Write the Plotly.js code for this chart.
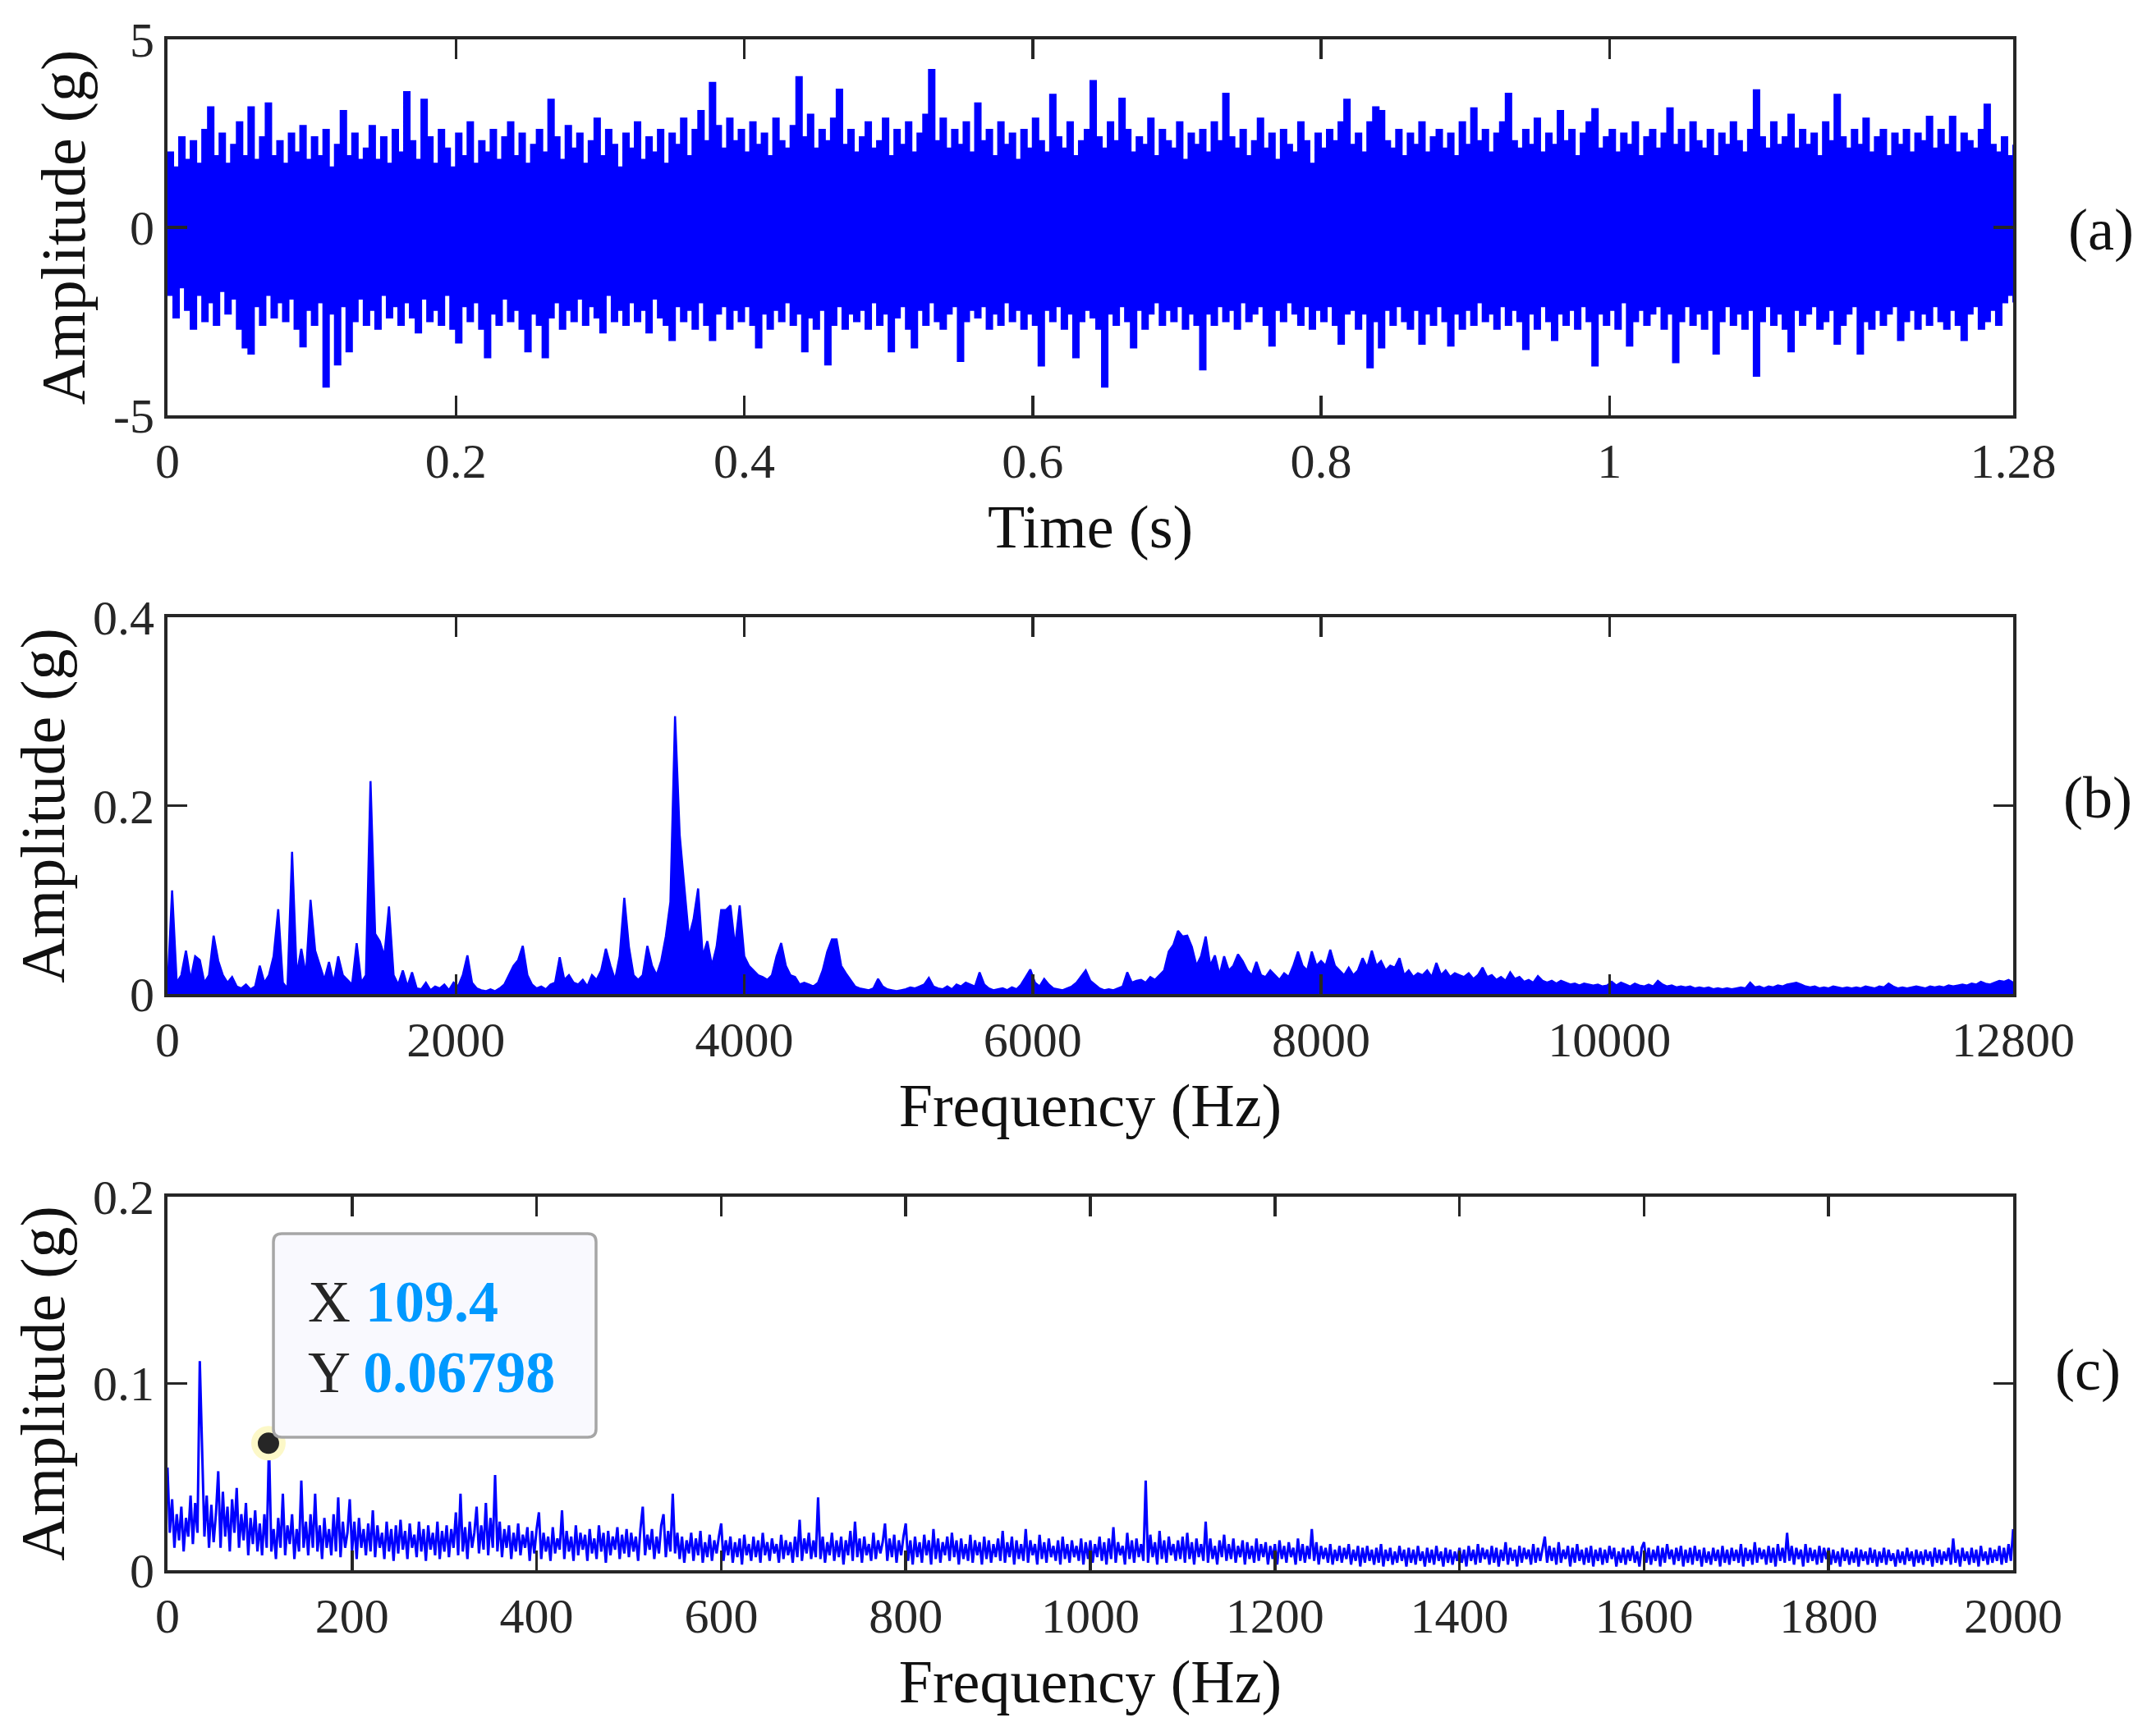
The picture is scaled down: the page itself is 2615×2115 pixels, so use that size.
<!DOCTYPE html>
<html><head><meta charset="utf-8">
<script src="https://cdn.plot.ly/plotly-3.0.1.min.js"></script>
<style>html,body{margin:0;padding:0;background:#fff}#chart{width:2615px;height:2115px}</style>
</head><body><div id="chart"></div>
<script>
// ---------- DATA ----------
// (a) time signal: upper / lower envelope per 0.004 s column (g)
const timeStep = 0.004;
const ampUpper = [
2.0,1.6,2.4,1.8,2.3,1.7,2.6,3.2,1.9,2.5,1.7,2.2,2.8,1.9,3.2,1.8,2.4,3.3,1.9,2.3,
1.7,2.5,2.0,2.7,1.8,2.4,1.9,2.6,1.6,2.2,3.1,1.9,2.5,1.8,2.1,2.7,1.8,2.4,1.7,2.6,
2.0,3.6,2.3,1.8,3.4,2.4,1.7,2.6,2.1,1.6,2.5,1.9,2.8,1.7,2.3,2.0,2.6,1.8,2.4,2.8,
1.9,2.5,1.7,2.2,2.6,2.0,3.4,2.4,1.8,2.7,2.1,2.5,1.7,2.3,2.9,1.9,2.6,2.2,1.6,2.5,
2.1,2.8,1.8,2.4,2.0,2.6,1.7,2.5,2.2,2.9,1.9,2.6,3.1,2.3,3.85,2.7,2.1,2.9,2.3,2.6,
2.0,2.8,2.2,2.5,1.9,2.9,2.3,2.1,2.7,4.0,2.4,3.0,2.1,2.6,2.3,2.9,3.67,2.2,2.6,2.0,
2.4,2.8,2.1,2.3,2.9,1.9,2.6,2.2,2.8,2.0,2.5,3.0,4.19,2.3,2.9,2.1,2.6,2.2,2.8,2.0,
3.3,2.3,2.6,1.9,2.8,2.2,2.5,1.8,2.6,2.1,2.9,2.3,2.0,3.53,2.4,2.1,2.8,1.9,2.3,2.6,
3.9,2.4,2.1,2.8,2.3,3.43,2.6,2.0,2.4,2.2,2.9,1.9,2.6,2.3,2.1,2.8,1.8,2.5,2.2,2.6,
2.0,2.8,2.3,3.56,2.4,2.1,2.6,1.9,2.3,2.9,2.1,2.5,1.8,2.6,2.2,2.0,2.8,2.3,1.7,2.5,
2.1,2.6,2.3,2.8,3.4,2.2,2.5,2.0,2.8,3.2,3.1,2.3,2.1,2.6,1.9,2.5,2.2,2.8,2.0,2.4,
2.6,2.1,2.5,1.9,2.8,2.2,3.17,2.3,2.6,2.0,2.5,2.8,3.56,2.3,2.1,2.6,2.2,2.9,2.0,2.5,
2.2,3.1,2.3,2.6,1.9,2.5,2.8,3.15,2.1,2.4,2.6,2.0,2.5,2.2,2.8,1.9,2.4,2.6,2.1,2.5,
3.17,2.2,2.6,2.0,2.8,2.3,2.1,2.6,1.9,2.5,2.2,2.8,2.3,2.0,2.6,3.65,2.4,2.1,2.8,2.2,
2.4,3.0,2.1,2.6,2.2,2.5,1.9,2.8,2.3,3.53,2.4,2.1,2.6,2.2,2.9,2.0,2.4,2.6,1.9,2.5,
2.2,2.6,2.0,2.5,2.3,2.95,2.1,2.6,2.2,2.95,2.0,2.5,2.3,2.1,2.6,3.27,2.2,2.0,2.4,1.9,
2.2
];
const ampLower = [
-1.8,-2.4,-1.6,-2.2,-2.7,-1.8,-2.5,-2.0,-2.6,-1.7,-2.3,-1.9,-2.7,-3.2,-3.36,-2.1,-2.6,-1.8,-2.4,-2.0,
-2.5,-1.9,-2.7,-3.17,-2.2,-2.6,-2.0,-4.24,-2.3,-3.65,-2.1,-3.3,-2.5,-1.9,-2.6,-2.2,-2.7,-1.8,-2.4,-2.1,
-2.6,-2.0,-2.4,-2.8,-1.9,-2.5,-2.2,-2.6,-1.8,-2.7,-3.07,-2.1,-2.5,-2.0,-2.7,-3.46,-2.3,-2.6,-1.9,-2.5,
-2.2,-2.7,-3.3,-2.3,-2.6,-3.46,-2.4,-2.0,-2.7,-2.2,-2.5,-1.9,-2.6,-2.1,-2.4,-2.8,-1.8,-2.5,-2.2,-2.6,
-2.0,-2.5,-2.2,-2.8,-1.9,-2.4,-2.6,-3.0,-2.1,-2.5,-2.2,-2.7,-2.0,-2.6,-3.0,-2.3,-2.1,-2.7,-2.2,-2.5,
-2.1,-2.6,-3.2,-2.3,-2.7,-2.2,-2.5,-2.0,-2.6,-2.3,-3.3,-2.4,-2.7,-2.2,-3.65,-2.6,-2.1,-2.7,-2.3,-2.5,
-2.2,-2.7,-2.0,-2.6,-2.3,-3.3,-2.4,-2.1,-2.7,-3.2,-2.2,-2.6,-2.0,-2.5,-2.7,-2.3,-2.1,-3.56,-2.5,-2.2,
-2.4,-2.1,-2.7,-2.3,-2.6,-2.0,-2.5,-2.2,-2.7,-2.3,-2.6,-3.68,-2.2,-2.5,-2.1,-2.7,-2.3,-3.46,-2.5,-2.2,
-2.4,-2.7,-4.24,-2.3,-2.6,-2.1,-2.5,-3.2,-2.2,-2.7,-2.3,-2.0,-2.6,-2.2,-2.5,-2.1,-2.7,-2.3,-2.6,-3.78,
-2.3,-2.6,-2.1,-2.5,-2.2,-2.7,-2.0,-2.5,-2.3,-2.1,-2.6,-3.15,-2.2,-2.5,-2.0,-2.3,-2.6,-2.1,-2.7,-2.2,
-2.5,-2.1,-2.6,-3.1,-2.3,-2.2,-2.7,-2.3,-3.73,-2.5,-3.2,-2.2,-2.6,-2.1,-2.5,-2.7,-2.2,-3.1,-2.3,-2.6,
-2.1,-2.5,-3.15,-2.3,-2.7,-2.2,-2.6,-2.0,-2.5,-2.3,-2.7,-2.1,-2.6,-2.2,-2.5,-3.24,-2.3,-2.7,-2.1,-2.5,
-3.0,-2.3,-2.6,-2.2,-2.7,-2.1,-2.5,-3.68,-2.3,-2.6,-2.2,-2.7,-2.0,-3.15,-2.5,-2.2,-2.6,-2.3,-2.1,-2.7,
-2.3,-3.59,-2.5,-2.1,-2.6,-2.3,-2.7,-2.2,-3.36,-2.5,-2.1,-2.6,-2.3,-2.7,-2.2,-3.95,-2.5,-2.1,-2.6,-2.3,
-2.7,-3.3,-2.2,-2.6,-2.3,-2.1,-2.7,-2.5,-2.2,-3.1,-2.6,-2.3,-2.1,-3.36,-2.5,-2.7,-2.2,-2.6,-2.3,-2.1,
-3.0,-2.5,-2.2,-2.7,-2.3,-2.6,-2.1,-2.5,-2.7,-2.2,-2.6,-3.0,-2.3,-2.1,-2.7,-2.5,-2.2,-2.6,-2.0,-1.8,
-2.0
];

// (b) amplitude spectrum 0-12800 Hz, one value per 32 Hz (g)
const freqStepB = 32;
const spectrumB = [
0.005,0.11,0.012,0.02,0.046,0.015,0.04,0.036,0.012,0.02,0.062,0.035,0.02,0.012,0.018,0.008,0.006,0.01,0.005,0.008,
0.03,0.012,0.02,0.04,0.09,0.012,0.006,0.151,0.02,0.048,0.02,0.1,0.046,0.03,0.015,0.034,0.012,0.04,0.02,0.015,
0.01,0.054,0.012,0.02,0.226,0.064,0.056,0.04,0.093,0.02,0.01,0.025,0.008,0.023,0.006,0.005,0.012,0.004,0.008,0.006,
0.01,0.004,0.012,0.008,0.02,0.041,0.012,0.006,0.004,0.003,0.005,0.003,0.006,0.01,0.02,0.03,0.036,0.051,0.02,0.01,
0.006,0.008,0.005,0.01,0.012,0.039,0.015,0.02,0.012,0.01,0.015,0.008,0.02,0.015,0.025,0.048,0.03,0.015,0.04,0.102,
0.05,0.02,0.015,0.02,0.051,0.03,0.02,0.035,0.061,0.098,0.295,0.169,0.114,0.06,0.079,0.112,0.04,0.056,0.03,0.05,
0.089,0.089,0.094,0.05,0.094,0.04,0.03,0.025,0.02,0.018,0.015,0.02,0.04,0.054,0.03,0.02,0.018,0.01,0.012,0.01,
0.008,0.012,0.025,0.045,0.058,0.058,0.03,0.022,0.015,0.008,0.006,0.005,0.004,0.006,0.016,0.008,0.005,0.004,0.003,0.004,
0.005,0.007,0.006,0.008,0.01,0.017,0.008,0.006,0.005,0.008,0.005,0.01,0.008,0.012,0.01,0.008,0.023,0.01,0.006,0.004,
0.005,0.006,0.004,0.007,0.005,0.01,0.018,0.026,0.012,0.008,0.016,0.01,0.006,0.005,0.004,0.006,0.008,0.012,0.018,0.025,
0.014,0.01,0.006,0.004,0.005,0.004,0.006,0.008,0.023,0.012,0.014,0.015,0.012,0.018,0.015,0.02,0.025,0.045,0.052,0.067,
0.061,0.062,0.05,0.03,0.04,0.061,0.03,0.041,0.02,0.04,0.025,0.03,0.042,0.035,0.025,0.02,0.034,0.02,0.018,0.025,
0.02,0.015,0.022,0.018,0.03,0.045,0.03,0.025,0.045,0.03,0.035,0.03,0.047,0.03,0.025,0.02,0.028,0.02,0.025,0.038,
0.028,0.046,0.03,0.035,0.025,0.03,0.028,0.038,0.02,0.025,0.018,0.022,0.02,0.025,0.018,0.033,0.02,0.025,0.018,0.022,
0.02,0.018,0.022,0.016,0.02,0.028,0.018,0.02,0.015,0.018,0.014,0.023,0.016,0.018,0.013,0.015,0.012,0.019,0.014,0.012,
0.014,0.011,0.014,0.012,0.01,0.011,0.009,0.011,0.01,0.009,0.01,0.008,0.009,0.013,0.009,0.012,0.01,0.008,0.011,0.009,
0.008,0.01,0.008,0.014,0.01,0.008,0.009,0.007,0.008,0.007,0.008,0.006,0.007,0.006,0.007,0.005,0.006,0.005,0.006,0.005,
0.006,0.007,0.006,0.012,0.007,0.008,0.006,0.008,0.007,0.009,0.008,0.01,0.011,0.012,0.01,0.008,0.007,0.008,0.006,0.007,
0.006,0.008,0.007,0.006,0.007,0.006,0.007,0.006,0.008,0.007,0.006,0.008,0.007,0.011,0.008,0.006,0.007,0.006,0.007,0.008,
0.007,0.006,0.008,0.007,0.008,0.007,0.009,0.008,0.009,0.01,0.009,0.011,0.01,0.013,0.011,0.01,0.012,0.014,0.013,0.015,
0.012
];

// (c) amplitude spectrum 0-2000 Hz, one value per 2.5 Hz (g)
const freqStepC = 2.5;
const spectrumC = [
0.055,0.02,0.038,0.012,0.03,0.016,0.034,0.01,0.028,0.018,0.04,0.014,0.036,0.02,0.112,0.07,0.018,0.04,0.012,0.035,
0.015,0.03,0.053,0.012,0.042,0.018,0.034,0.01,0.038,0.02,0.044,0.012,0.03,0.016,0.036,0.008,0.028,0.014,0.032,0.01,
0.025,0.008,0.03,0.012,0.068,0.01,0.022,0.006,0.028,0.012,0.041,0.008,0.024,0.014,0.03,0.006,0.022,0.01,0.048,0.012,
0.026,0.008,0.03,0.012,0.041,0.01,0.024,0.006,0.028,0.012,0.022,0.008,0.03,0.01,0.039,0.007,0.026,0.012,0.02,0.038,
0.01,0.026,0.006,0.028,0.012,0.022,0.008,0.025,0.01,0.032,0.007,0.024,0.012,0.02,0.006,0.026,0.01,0.022,0.005,0.024,
0.009,0.027,0.011,0.021,0.006,0.025,0.012,0.019,0.007,0.026,0.01,0.022,0.005,0.024,0.011,0.02,0.008,0.026,0.006,0.021,
0.01,0.024,0.007,0.022,0.012,0.031,0.008,0.041,0.01,0.023,0.006,0.026,0.012,0.02,0.034,0.009,0.024,0.011,0.036,0.008,
0.028,0.012,0.051,0.01,0.026,0.007,0.022,0.012,0.024,0.006,0.02,0.01,0.025,0.008,0.019,0.012,0.023,0.005,0.021,0.009,
0.022,0.031,0.006,0.02,0.01,0.018,0.005,0.023,0.009,0.017,0.011,0.032,0.006,0.021,0.01,0.018,0.005,0.024,0.008,0.02,
0.011,0.019,0.005,0.022,0.009,0.017,0.006,0.024,0.01,0.02,0.004,0.021,0.008,0.018,0.011,0.023,0.006,0.019,0.009,0.022,
0.007,0.02,0.01,0.018,0.005,0.022,0.034,0.008,0.019,0.011,0.022,0.006,0.018,0.009,0.024,0.03,0.007,0.021,0.01,0.041,
0.009,0.02,0.006,0.018,0.004,0.016,0.009,0.02,0.005,0.017,0.008,0.021,0.004,0.015,0.007,0.019,0.005,0.016,0.009,0.018,
0.025,0.005,0.016,0.008,0.018,0.004,0.015,0.007,0.017,0.003,0.019,0.008,0.014,0.005,0.018,0.007,0.016,0.004,0.02,0.008,
0.015,0.005,0.017,0.009,0.014,0.004,0.019,0.006,0.016,0.008,0.015,0.004,0.018,0.007,0.027,0.005,0.017,0.009,0.02,0.006,
0.016,0.007,0.039,0.006,0.018,0.004,0.015,0.008,0.02,0.005,0.016,0.007,0.018,0.003,0.016,0.008,0.021,0.005,0.026,0.007,
0.017,0.004,0.018,0.008,0.014,0.005,0.02,0.006,0.016,0.009,0.015,0.025,0.005,0.017,0.007,0.019,0.004,0.016,0.008,0.018,
0.025,0.005,0.016,0.003,0.018,0.007,0.015,0.004,0.019,0.008,0.016,0.003,0.022,0.006,0.017,0.004,0.015,0.008,0.018,0.005,
0.02,0.007,0.016,0.003,0.017,0.006,0.014,0.005,0.019,0.004,0.016,0.008,0.015,0.003,0.018,0.006,0.016,0.004,0.014,0.007,
0.017,0.005,0.021,0.004,0.015,0.007,0.018,0.003,0.016,0.006,0.014,0.005,0.022,0.004,0.016,0.008,0.014,0.003,0.019,0.006,
0.015,0.004,0.017,0.007,0.013,0.005,0.016,0.003,0.018,0.006,0.014,0.004,0.016,0.007,0.013,0.005,0.017,0.003,0.015,0.006,
0.016,0.004,0.014,0.007,0.018,0.005,0.015,0.003,0.017,0.006,0.023,0.004,0.015,0.008,0.013,0.003,0.02,0.006,0.016,0.004,
0.017,0.007,0.014,0.005,0.048,0.004,0.019,0.007,0.015,0.003,0.021,0.006,0.016,0.004,0.018,0.008,0.014,0.005,0.016,0.006,
0.018,0.004,0.02,0.006,0.015,0.003,0.017,0.007,0.014,0.005,0.026,0.004,0.017,0.006,0.013,0.003,0.016,0.007,0.019,0.005,
0.014,0.006,0.017,0.004,0.013,0.007,0.016,0.003,0.015,0.006,0.013,0.004,0.017,0.005,0.014,0.007,0.015,0.003,0.013,0.006,
0.014,0.003,0.016,0.006,0.013,0.004,0.015,0.007,0.012,0.003,0.017,0.005,0.014,0.004,0.013,0.006,0.022,0.005,0.015,0.003,
0.013,0.006,0.012,0.004,0.014,0.003,0.011,0.005,0.013,0.004,0.012,0.006,0.014,0.003,0.011,0.005,0.013,0.002,0.012,0.004,
0.013,0.005,0.011,0.003,0.012,0.004,0.014,0.002,0.011,0.005,0.012,0.003,0.01,0.004,0.013,0.005,0.011,0.002,0.012,0.004,
0.011,0.003,0.013,0.005,0.01,0.002,0.012,0.004,0.011,0.003,0.013,0.005,0.01,0.002,0.012,0.004,0.011,0.003,0.01,0.005,
0.012,0.004,0.011,0.002,0.013,0.005,0.011,0.003,0.014,0.004,0.012,0.006,0.011,0.003,0.013,0.004,0.012,0.002,0.011,0.005,
0.015,0.003,0.012,0.005,0.011,0.002,0.013,0.004,0.012,0.006,0.011,0.003,0.014,0.004,0.012,0.005,0.011,0.018,0.004,0.013,
0.005,0.012,0.003,0.015,0.004,0.011,0.006,0.013,0.002,0.012,0.004,0.014,0.005,0.011,0.003,0.012,0.004,0.013,0.002,0.011,
0.005,0.012,0.003,0.011,0.004,0.013,0.006,0.012,0.002,0.01,0.004,0.012,0.003,0.011,0.005,0.013,0.004,0.01,0.002,0.012,
0.015,0.004,0.012,0.003,0.011,0.005,0.013,0.002,0.012,0.004,0.014,0.006,0.011,0.003,0.012,0.005,0.013,0.002,0.011,0.004,
0.012,0.003,0.013,0.005,0.011,0.002,0.012,0.004,0.01,0.003,0.012,0.005,0.011,0.002,0.013,0.004,0.011,0.003,0.012,0.005,
0.011,0.004,0.014,0.002,0.012,0.005,0.011,0.003,0.015,0.004,0.012,0.006,0.011,0.003,0.013,0.004,0.012,0.002,0.014,0.005,
0.012,0.004,0.02,0.005,0.013,0.003,0.012,0.006,0.011,0.002,0.014,0.004,0.012,0.005,0.011,0.003,0.013,0.004,0.012,0.006,
0.012,0.003,0.011,0.004,0.01,0.002,0.012,0.005,0.011,0.003,0.01,0.004,0.012,0.002,0.011,0.005,0.01,0.003,0.012,0.004,
0.011,0.002,0.01,0.004,0.012,0.003,0.011,0.005,0.009,0.002,0.011,0.004,0.01,0.003,0.012,0.005,0.01,0.002,0.011,0.004,
0.01,0.003,0.011,0.005,0.01,0.002,0.012,0.004,0.011,0.003,0.01,0.005,0.012,0.003,0.017,0.004,0.011,0.002,0.012,0.005,
0.01,0.003,0.012,0.004,0.011,0.002,0.013,0.005,0.01,0.003,0.012,0.004,0.011,0.005,0.013,0.003,0.012,0.004,0.014,0.005,
0.022
];

// data tip
const tipX = 109.4;
const tipY = 0.06798;

// tick values / labels
const ticksAx = [0, 0.2, 0.4, 0.6, 0.8, 1, 1.28];
const ticksAxText = ['0', '0.2', '0.4', '0.6', '0.8', '1', '1.28'];
const ticksAy = [-5, 0, 5];
const ticksAyText = ['-5', '0', '5'];
const ticksBx = [0, 2000, 4000, 6000, 8000, 10000, 12800];
const ticksBxText = ['0', '2000', '4000', '6000', '8000', '10000', '12800'];
const ticksBy = [0, 0.2, 0.4];
const ticksByText = ['0', '0.2', '0.4'];
const ticksCx = [0, 200, 400, 600, 800, 1000, 1200, 1400, 1600, 1800, 2000];
const ticksCxText = ticksCx.map(String);
const ticksCy = [0, 0.1, 0.2];
const ticksCyText = ['0', '0.1', '0.2'];

const xTitleA = 'Time (s)';
const xTitleBC = 'Frequency (Hz)';
const yTitle = 'Amplitude (g)';
const panelLabels = ['(a)', '(b)', '(c)'];

// ---------- STYLE ----------
const FONT = 'Liberation Serif, "Times New Roman", Times, serif';
const INK = '#262626';
const TITLE_INK = '#111111';
const BLUE = '#0000ff';

const tA = ampUpper.map((_, i) => i * timeStep);
const fB = spectrumB.map((_, i) => i * freqStepB);
const fC = spectrumC.map((_, i) => i * freqStepC);

const traces = [
  {x: tA, y: ampUpper, xaxis: 'x', yaxis: 'y', mode: 'lines', line: {color: BLUE, width: 2, shape: 'hv'}, hoverinfo: 'skip'},
  {x: tA, y: ampLower, xaxis: 'x', yaxis: 'y', mode: 'lines', line: {color: BLUE, width: 2, shape: 'hv'}, fill: 'tonexty', fillcolor: BLUE, hoverinfo: 'skip'},
  {x: fB, y: spectrumB, xaxis: 'x2', yaxis: 'y2', mode: 'lines', line: {color: BLUE, width: 2.5}, fill: 'tozeroy', fillcolor: BLUE, hoverinfo: 'skip'},
  {x: fC, y: spectrumC, xaxis: 'x3', yaxis: 'y3', mode: 'lines', line: {color: BLUE, width: 3}, hoverinfo: 'skip'},
  {x: [tipX], y: [tipY], xaxis: 'x3', yaxis: 'y3', mode: 'markers', cliponaxis: false,
   marker: {size: 34, color: INK, line: {color: '#fcf8c8', width: 8}}, hoverinfo: 'skip'}
];

function ax(extra) {
  return Object.assign({
    showline: true, mirror: 'ticks', linecolor: INK, linewidth: 4,
    ticks: 'inside', ticklen: 24, tickwidth: 3.5, tickcolor: INK,
    showgrid: false, zeroline: false, automargin: false, tickmode: 'array',
    tickfont: {family: FONT, size: 60, color: INK}
  }, extra);
}
function xTitle(t) { return {text: t, font: {family: FONT, size: 74, color: TITLE_INK}, standoff: 22}; }
function yTitleObj() { return {text: yTitle, font: {family: FONT, size: 76, color: TITLE_INK}, standoff: 10}; }

// data tip box (in panel c data units)
const bx0 = 114.8, bx1 = 464.4, by0 = 0.0712, by1 = 0.1802, rx = 9, ry = 0.0044;
const boxPath = `M ${bx0+rx},${by0} L ${bx1-rx},${by0} Q ${bx1},${by0} ${bx1},${by0+ry} L ${bx1},${by1-ry} Q ${bx1},${by1} ${bx1-rx},${by1} L ${bx0+rx},${by1} Q ${bx0},${by1} ${bx0},${by1-ry} L ${bx0},${by0+ry} Q ${bx0},${by0} ${bx0+rx},${by0} Z`;

const layout = {
  width: 2615, height: 2115,
  margin: {l: 204, r: 163, t: 48, b: 202, pad: 0},
  paper_bgcolor: '#ffffff', plot_bgcolor: '#ffffff',
  showlegend: false,
  font: {family: FONT, color: INK},
  xaxis: ax({domain: [0, 1], anchor: 'y', range: [0, 1.28], tickvals: ticksAx, ticktext: ticksAxText, title: xTitle(xTitleA)}),
  yaxis: ax({domain: [0.75442, 1], anchor: 'x', range: [-5, 5], tickvals: ticksAy, ticktext: ticksAyText, title: yTitleObj()}),
  xaxis2: ax({domain: [0, 1], anchor: 'y2', range: [0, 12800], tickvals: ticksBx, ticktext: ticksBxText, title: xTitle(xTitleBC)}),
  yaxis2: ax({domain: [0.37641, 0.62252], anchor: 'x2', range: [0, 0.4], tickvals: ticksBy, ticktext: ticksByText, title: yTitleObj()}),
  xaxis3: ax({domain: [0, 1], anchor: 'y3', range: [0, 2000], tickvals: ticksCx, ticktext: ticksCxText, title: xTitle(xTitleBC)}),
  yaxis3: ax({domain: [0, 0.24397], anchor: 'x3', range: [0, 0.2], tickvals: ticksCy, ticktext: ticksCyText, title: yTitleObj()}),
  shapes: [
    {type: 'path', xref: 'x3', yref: 'y3', path: boxPath, fillcolor: '#f9f9fe', line: {color: '#a6a6a6', width: 3.5}, layer: 'above'}
  ],
  annotations: [
    {xref: 'paper', yref: 'paper', x: 1.0476, y: 0.8756, text: panelLabels[0], showarrow: false, xanchor: 'center', yanchor: 'middle', font: {family: FONT, size: 72, color: TITLE_INK}},
    {xref: 'paper', yref: 'paper', x: 1.0458, y: 0.5046, text: panelLabels[1], showarrow: false, xanchor: 'center', yanchor: 'middle', font: {family: FONT, size: 72, color: TITLE_INK}},
    {xref: 'paper', yref: 'paper', x: 1.0405, y: 0.1308, text: panelLabels[2], showarrow: false, xanchor: 'center', yanchor: 'middle', font: {family: FONT, size: 72, color: TITLE_INK}},
    {xref: 'x3', yref: 'y3', x: 150.4, y: 0.1437, xanchor: 'left', yanchor: 'middle', showarrow: false,
     text: `X <span style="color:#0099ff"><b>${tipX}</b></span>`, font: {family: FONT, size: 72, color: INK}},
    {xref: 'x3', yref: 'y3', x: 150.4, y: 0.1059, xanchor: 'left', yanchor: 'middle', showarrow: false,
     text: `Y <span style="color:#0099ff"><b>${tipY}</b></span>`, font: {family: FONT, size: 72, color: INK}}
  ]
};

Plotly.newPlot('chart', traces, layout, {staticPlot: true, displayModeBar: false});
</script>
</body></html>
